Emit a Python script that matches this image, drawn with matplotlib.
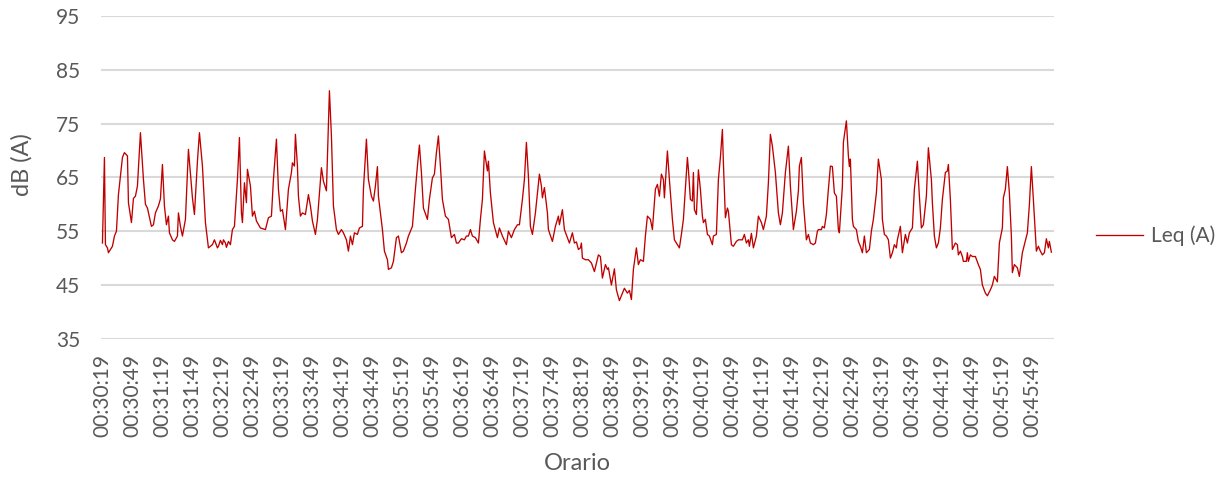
import matplotlib
matplotlib.use("Agg")
import matplotlib.pyplot as plt

plt.rcParams["font.family"] = ["Lato", "DejaVu Sans"]

# seconds elapsed since 00:30:19 and the measured Leq (A) level
seconds = [
    0, 2, 3, 5, 6, 8, 10, 12, 14, 16, 20, 22, 25, 26, 29, 31, 33, 35, 38, 41,
    43, 45, 49, 51, 53, 56, 58, 60, 62, 64, 66, 67, 70, 72, 75, 76, 78, 80, 83, 86,
    90, 92, 95, 97, 100, 103, 106, 110, 112, 115, 116, 118, 120, 121, 123, 124, 126, 128, 130, 132,
    135, 137, 139, 140, 142, 144, 145, 148, 150, 152, 154, 158, 163, 166, 169, 171, 174, 176, 178, 180,
    183, 186, 189, 190, 192, 193, 195, 196, 198, 200, 203, 206, 208, 210, 213, 215, 219, 221, 224, 227,
    229, 231, 234, 236, 239, 241, 244, 246, 248, 250, 252, 255, 257, 260, 261, 264, 266, 269, 271, 273,
    275, 276, 278, 280, 282, 285, 286, 289, 291, 294, 296, 299, 301, 304, 306, 310, 313, 315, 317, 319,
    321, 325, 327, 330, 332, 334, 336, 338, 340, 343, 346, 349, 352, 354, 356, 359, 362, 364, 366, 368,
    370, 373, 376, 378, 380, 382, 385, 386, 388, 391, 395, 397, 400, 404, 406, 409, 412, 415, 417, 420,
    422, 424, 426, 428, 430, 433, 435, 437, 439, 440, 442, 445, 446, 450, 453, 456, 457, 460, 462, 465,
    467, 470, 472, 474, 476, 478, 479, 480, 483, 486, 489, 492, 496, 498, 500, 503, 505, 506, 509, 512,
    514, 517, 520, 522, 525, 527, 529, 531, 534, 536, 538, 541, 543, 545, 548, 550, 553, 555, 557, 559,
    561, 562, 565, 567, 570, 572, 575, 577, 579, 581, 585, 586, 588, 590, 591, 592, 594, 596, 598, 600,
    601, 603, 605, 607, 610, 611, 614, 616, 618, 620, 621, 623, 625, 626, 629, 631, 634, 636, 640, 642,
    644, 646, 647, 649, 651, 654, 656, 659, 661, 664, 666, 668, 670, 673, 676, 678, 680, 683, 686, 688,
    691, 694, 696, 697, 699, 701, 704, 706, 708, 711, 713, 715, 716, 719, 720, 722, 724, 726, 728, 730,
    732, 734, 736, 737, 740, 741, 744, 746, 747, 748, 750, 751, 754, 756, 758, 760, 762, 764, 767, 769,
    771, 774, 776, 779, 780, 782, 784, 786, 788, 790, 792, 794, 795, 798, 800, 803, 805, 807, 810, 812,
    815, 817, 819, 821, 824, 826, 829, 830, 832, 834, 836, 838, 840, 843, 845, 846, 848, 850, 853, 855,
    856, 858, 860, 861, 864, 865, 866, 868, 870, 873, 876, 878, 880, 883, 885, 888, 890, 892, 895, 897,
    900, 901, 903, 905, 907, 909, 910, 912, 915, 917, 920, 922, 925, 927, 929, 931, 934, 936, 938, 940,
    942, 944, 946, 947, 949,
]
leq = [
    52.8, 68.7, 52.5, 51.9, 51.0, 51.6, 52.2, 54.1, 55.0, 61.8, 68.7, 69.6, 69.0, 60.3, 56.6, 61.1, 61.5, 63.4, 73.3, 64.6,
    60.0, 59.3, 55.9, 56.2, 58.4, 59.7, 61.0, 67.4, 59.7, 56.2, 57.8, 54.7, 53.4, 53.1, 54.1, 58.4, 55.9, 54.1, 57.2, 70.2,
    61.2, 58.1, 68.0, 73.3, 67.1, 56.6, 51.9, 52.5, 53.4, 51.9, 52.2, 53.3, 52.5, 53.4, 52.8, 52.0, 53.1, 52.5, 55.3, 55.9,
    64.6, 72.4, 58.4, 56.6, 64.0, 60.3, 66.5, 63.4, 57.8, 58.7, 56.9, 55.6, 55.3, 57.5, 57.8, 64.6, 72.1, 62.8, 58.7, 59.0,
    55.3, 62.8, 65.9, 67.7, 67.1, 73.0, 67.1, 61.5, 57.8, 58.4, 58.1, 61.8, 59.7, 56.9, 54.4, 57.2, 66.8, 64.3, 62.5, 81.1,
    72.7, 59.7, 55.3, 54.4, 55.3, 54.7, 53.4, 51.3, 54.1, 52.5, 54.7, 54.4, 55.6, 55.9, 62.8, 72.1, 64.6, 61.5, 60.6, 63.4,
    67.0, 61.5, 58.4, 55.3, 51.3, 49.7, 47.9, 48.2, 49.4, 53.8, 54.1, 51.0, 51.3, 52.8, 54.1, 55.9, 62.8, 67.1, 71.0, 65.9,
    59.3, 57.2, 60.9, 64.9, 65.6, 69.6, 72.7, 67.1, 60.9, 57.8, 57.2, 53.8, 54.4, 52.8, 52.8, 53.6, 53.4, 54.1, 54.1, 55.3,
    54.1, 53.8, 52.8, 57.2, 60.9, 69.9, 66.2, 68.0, 62.1, 56.6, 53.8, 55.6, 54.1, 52.5, 55.0, 53.8, 55.3, 56.2, 56.2, 60.9,
    64.6, 71.5, 65.2, 55.9, 54.4, 58.4, 62.1, 65.6, 63.4, 61.2, 63.1, 58.4, 55.3, 53.1, 55.9, 57.8, 56.2, 59.0, 55.3, 53.8,
    52.8, 54.7, 52.8, 53.0, 51.6, 51.9, 52.8, 50.0, 49.7, 49.7, 49.1, 47.5, 50.6, 50.3, 46.3, 48.8, 47.9, 48.2, 45.0, 48.0,
    44.1, 42.1, 43.5, 44.4, 43.5, 44.0, 42.3, 47.9, 51.9, 48.8, 49.7, 49.4, 54.1, 57.8, 57.2, 55.3, 62.8, 63.7, 61.5, 65.6,
    64.6, 61.2, 69.9, 64.6, 57.2, 53.4, 52.5, 51.9, 54.4, 57.2, 68.7, 66.5, 60.9, 60.6, 65.9, 59.0, 58.1, 66.4, 62.8, 57.8,
    56.6, 57.2, 54.4, 54.1, 52.5, 54.1, 54.4, 64.6, 68.7, 73.9, 67.7, 57.5, 59.3, 58.7, 52.5, 52.2, 53.1, 53.4, 53.4, 54.4,
    52.8, 53.4, 52.2, 54.6, 51.9, 54.1, 57.8, 56.6, 55.3, 57.8, 64.0, 73.0, 70.8, 65.9, 58.4, 56.2, 58.4, 65.9, 70.8, 63.4,
    55.3, 58.7, 62.5, 67.1, 68.7, 60.3, 53.4, 54.4, 52.8, 52.5, 52.8, 55.0, 55.3, 55.3, 55.9, 55.6, 58.1, 62.8, 67.1, 67.0,
    62.1, 61.5, 55.3, 54.7, 63.4, 71.5, 75.5, 69.0, 67.0, 68.4, 57.2, 55.9, 55.3, 53.1, 52.2, 51.0, 54.1, 51.0, 51.6, 55.0,
    57.2, 62.1, 68.4, 64.6, 57.2, 54.4, 54.1, 53.4, 50.0, 51.0, 52.5, 51.9, 53.4, 55.9, 51.0, 54.4, 52.8, 54.7, 55.6, 62.8,
    68.0, 61.5, 55.6, 56.2, 61.5, 70.5, 64.6, 60.3, 54.1, 51.9, 52.8, 55.6, 60.9, 65.9, 66.2, 67.4, 60.9, 51.6, 52.8, 52.5,
    50.6, 51.3, 50.3, 49.4, 49.4, 51.0, 49.4, 50.6, 50.3, 50.3, 48.8, 47.9, 45.0, 43.5, 43.0, 44.1, 45.0, 46.6, 45.6, 52.8,
    55.6, 61.2, 62.8, 67.0, 62.1, 54.1, 47.3, 48.8, 48.2, 46.6, 51.0, 52.5, 54.7, 59.9, 67.0, 60.9, 51.3, 52.2, 51.3, 50.6,
    51.0, 53.6, 51.9, 53.1, 51.1,
]

tick_labels = [
    "00:30:19", "00:30:49", "00:31:19", "00:31:49", "00:32:19", "00:32:49",
    "00:33:19", "00:33:49", "00:34:19", "00:34:49", "00:35:19", "00:35:49",
    "00:36:19", "00:36:49", "00:37:19", "00:37:49", "00:38:19", "00:38:49",
    "00:39:19", "00:39:49", "00:40:19", "00:40:49", "00:41:19", "00:41:49",
    "00:42:19", "00:42:49", "00:43:19", "00:43:49", "00:44:19", "00:44:49",
    "00:45:19", "00:45:49",
]
tick_step = 30
y_ticks = [35, 45, 55, 65, 75, 85, 95]

text_color = "#595959"
grid_color = "#d9d9d9"
line_color = "#c00000"

fig = plt.figure(figsize=(12.28, 4.82), dpi=100)
ax = fig.add_axes([0.0822, 0.297, 0.776, 0.670])

ax.plot(seconds, leq, color=line_color, linewidth=0.95, label="Leq (A)")

ax.set_ylim(35, 95)
ax.set_yticks(y_ticks)
ax.set_xlim(-1.5, 951.5)
ax.set_xticks([i * tick_step for i in range(len(tick_labels))])
ax.set_xticklabels(tick_labels, rotation=90)

ax.grid(axis="y", color=grid_color, linewidth=1.5)
ax.set_axisbelow(True)
for side in ax.spines.values():
    side.set_visible(False)

ax.tick_params(axis="y", length=0, pad=15, labelsize=15, labelcolor=text_color)
ax.tick_params(axis="x", length=0, pad=11, labelsize=15, labelcolor=text_color)

ax.set_ylabel("dB (A)", fontsize=17, color=text_color)
ax.set_xlabel("Orario", fontsize=17, color=text_color)
ax.yaxis.set_label_coords(-0.072, 0.54)
ax.xaxis.set_label_coords(0.5, -0.352)

leg = ax.legend(loc="center left", bbox_to_anchor=(1.035, 0.32), frameon=False,
                fontsize=15, handlelength=2.3, handletextpad=0.35, borderaxespad=0)
for t in leg.get_texts():
    t.set_color(text_color)

fig.savefig("out.png", dpi=100)
